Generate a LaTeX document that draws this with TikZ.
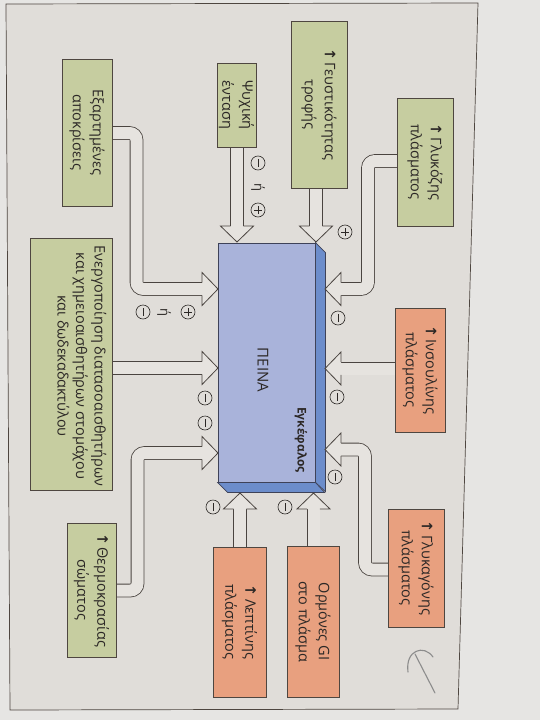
\documentclass[tikz,border=0pt]{standalone}
\usepackage{fontspec}
\setmainfont{Open Sans}
\newfontfamily\arrowfont{DejaVu Sans}
\newcommand\upar{{\arrowfont\bfseries ↑}\,}
\definecolor{pagebg}{HTML}{E0DDD9}
\definecolor{outerbg}{HTML}{E6E5E3}
\definecolor{greenfill}{HTML}{C6CDA0}
\definecolor{orangefill}{HTML}{E8A07F}
\definecolor{boxline}{HTML}{4E4640}
\definecolor{textcol}{HTML}{2C2826}
\definecolor{arrowfill}{HTML}{E6E3DF}
\definecolor{arrowline}{HTML}{4A4440}
\definecolor{brainfront}{HTML}{A9B3DA}
\definecolor{brainside}{HTML}{6C8DCB}
\definecolor{brainline}{HTML}{3E4258}
\definecolor{penmark}{HTML}{8C8C8C}
\begin{document}
\begin{tikzpicture}[x=1pt,y=-1pt,
  box/.style={draw=boxline, line width=0.8pt, rotate=-90, align=center,
    font=\fontsize{14.5}{20}\selectfont, text=textcol, inner sep=2pt},
  gbox/.style={box, fill=greenfill},
  obox/.style={box, fill=orangefill},
  shaft/.style={draw=arrowline, line width=0.8pt, double=arrowfill,
    double distance=12pt, rounded corners=7pt},
  hhead/.pic={\path[fill=arrowfill, draw=arrowline, line width=0.8pt, line join=miter]
    (-16,6.4) -- (-16,16.5) -- (0,0) -- (-16,-16.5) -- (-16,-6.4);},
  sgnm/.style={circle, draw=textcol, line width=0.6pt, minimum size=14pt, inner sep=0pt,
    path picture={\draw[textcol, line width=0.8pt]
      ([yshift=-4pt]path picture bounding box.center) -- ([yshift=4pt]path picture bounding box.center);}},
  sgnp/.style={circle, draw=textcol, line width=0.6pt, minimum size=14pt, inner sep=0pt,
    path picture={\draw[textcol, line width=0.8pt]
      ([yshift=-4pt]path picture bounding box.center) -- ([yshift=4pt]path picture bounding box.center)
      ([xshift=-4pt]path picture bounding box.center) -- ([xshift=4pt]path picture bounding box.center);}},
  orword/.style={rotate=-90, font=\fontsize{13}{13}\selectfont, text=textcol, inner sep=0pt}
]
\useasboundingbox (0,0) rectangle (540,720);
\fill[outerbg] (0,0) rectangle (540,720);
\fill[pagebg] (6,4) -- (478,3) -- (458,709) -- (10,710) -- cycle;
% frame
\draw[boxline, line width=0.7pt] (6,4) -- (478,3) -- (458,709) -- (10,710) -- cycle;

% ---------- brain ----------
\node[draw=brainline, line width=0.8pt, fill=brainfront, minimum width=97pt, minimum height=239pt,
  inner sep=0pt] (brain) at (266.5,362.5) {};
\path[fill=brainside, draw=brainline, line width=0.7pt]
  (brain.north east) -- ++(10,10) -- ++(0,239) -- (brain.south east) -- cycle;
\path[fill=brainside, draw=brainline, line width=0.7pt]
  (brain.south west) -- ++(10,10) -- ++(97,0) -- (brain.south east) -- cycle;
\node[rotate=-90, font=\fontsize{15}{15}\selectfont, text=textcol] (peina) at (263,370) {ΠΕΙΝΑ};
\node[rotate=-90, font=\fontsize{12}{12}\selectfont\bfseries, text=textcol] (enk) at (301,440) {Εγκέφαλος};

% ---------- tips ----------
\coordinate (tA) at (218,289);
\coordinate (tB) at (218,368);
\coordinate (tC) at (218,453);
\coordinate (tD) at (240,493);
\coordinate (tE) at (313.5,493);
\coordinate (tF) at (325,449.5);
\coordinate (tG) at (325,368.5);
\coordinate (tH) at (325,289);
\coordinate (tI) at (237,242);
\coordinate (tJ) at (316,242);

% ---------- shafts ----------
\draw[shaft] (112,133) -- (136.5,133) -- (136.5,289) -- ([xshift=-16pt]tA);
\draw[shaft] (112,368) -- ([xshift=-16pt]tB);
\draw[shaft] (116,590.5) -- (137.5,590.5) -- (137.5,453) -- ([xshift=-16pt]tC);
\draw[shaft] (240,547) -- ([yshift=-16pt]tD);
\draw[shaft] (313.5,546) -- ([yshift=-16pt]tE);
\draw[shaft] (388,569.5) -- (365,569.5) -- (365,449.5) -- ([xshift=16pt]tF);
\draw[shaft] (395,368.5) -- ([xshift=16pt]tG);
\draw[shaft] (397,161) -- (368,161) -- (368,289) -- ([xshift=16pt]tH);
\draw[shaft] (237,147) -- ([yshift=16pt]tI);
\draw[shaft] (316,188) -- ([yshift=16pt]tJ);

% ---------- heads ----------
\pic at (tA) {hhead};
\pic at (tB) {hhead};
\pic at (tC) {hhead};
\pic[rotate=90] at (tD) {hhead};
\pic[rotate=90] at (tE) {hhead};
\pic[rotate=180] at (tF) {hhead};
\pic[rotate=180] at (tG) {hhead};
\pic[rotate=180] at (tH) {hhead};
\pic[rotate=-90] at (tI) {hhead};
\pic[rotate=-90] at (tJ) {hhead};

% ---------- boxes ----------
\node[gbox, minimum width=147pt, minimum height=50pt] (A) at (87,132.5) {Εξαρτημένες\\αποκρίσεις};
\node[gbox, minimum width=252pt, minimum height=82pt] (B) at (71,364) {};
\node[rotate=-90, align=center, font=\fontsize{14.5}{18.5}\selectfont, text=textcol] (Btext) at (82,366)
  {Ενεργοποίηση διατασοαισθητήρων\\και χημειοαισθητήρων στομάχου\\και δωδεκαδακτύλου};
\node[gbox, minimum width=134pt, minimum height=49pt] (C) at (91.5,590) {\upar Θερμοκρασίας\\σώματος};
\node[obox, minimum width=150pt, minimum height=53pt] (D) at (239.5,622) {\upar Λεπτίνης\\πλάσματος};
\node[obox, minimum width=151pt, minimum height=52pt] (E) at (313,621.5) {Ορμόνες GI\\στο πλάσμα};
\node[obox, minimum width=118pt, minimum height=56pt] (F) at (416,568) {\upar Γλυκαγόνης\\πλάσματος};
\node[obox, minimum width=124pt, minimum height=50pt] (G) at (420,370) {\upar Ινσουλίνης\\πλάσματος};
\node[gbox, minimum width=128pt, minimum height=56pt] (H) at (425,162) {\upar Γλυκόζης\\πλάσματος};
\node[gbox, minimum width=84pt, minimum height=37pt] (I) at (236.5,105) {Ψυχική\\ένταση};
\node[gbox, minimum width=167pt, minimum height=56pt] (J) at (319,104.5) {\upar Γευστικότητας\\τροφής};

% ---------- signs ----------
\node[sgnm] (sI1) at (258,163) {};
\node[orword] (oI) at (258,187) {ή};
\node[sgnp] (sI2) at (258,210) {};
\node[sgnp] (sJ) at (345,232) {};
\node[sgnm] (sH) at (338,318) {};
\node[sgnm] (sG) at (337,397) {};
\node[sgnm] (sF) at (335,477) {};
\node[sgnm] (sE) at (285,507) {};
\node[sgnm] (sD) at (213,507) {};
\node[sgnm] (sA1) at (143,312) {};
\node[orword] (oA) at (164,312) {ή};
\node[sgnp] (sA2) at (188,312) {};
\node[sgnm] (sB1) at (205,398) {};
\node[sgnm] (sB2) at (205,423) {};

% ---------- pen mark ----------
\draw[penmark, line width=1.1pt, line cap=round] (433,657) .. controls (424,644) and (405,650) .. (408,672);
\draw[penmark, line width=1.1pt, line cap=round] (415,654) -- (435,693);
\end{tikzpicture}
\end{document}
